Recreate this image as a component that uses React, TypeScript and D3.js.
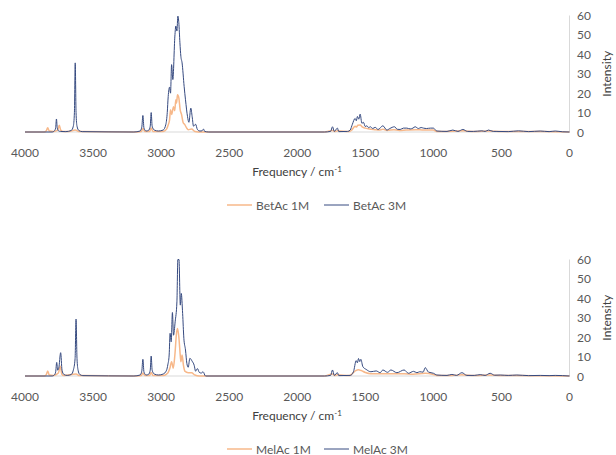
import React, { useRef, useEffect } from 'react';
import * as d3 from 'd3';

type Pt = [number, number];

// wavenumber (cm-1), intensity
const betAc1M: Pt[] = [
  [4000, 0], [3860, 0], [3845, 0.5], [3833, 2.2], [3822, 0.5], [3790, 0.3], [3760, 1], [3748, 3.5], [3738, 1],
  [3720, 0.2], [3680, 0.2], [3631, 1], [3600, 0.2], [3200, 0], [3145, 0.3], [3134, 1.8], [3120, 0.3], [3085, 0.3],
  [3073, 2], [3060, 0.3], [2985, 0.3], [2960, 1.5], [2948, 3.6], [2938, 6.2], [2931, 11.4], [2923, 9], [2909, 13],
  [2900, 11], [2892, 16.6], [2886, 15], [2880, 19.2], [2870, 17.6], [2860, 11.4], [2850, 9], [2838, 4.8],
  [2826, 3.8], [2813, 2.1], [2801, 1.2], [2776, 1.5], [2752, 0.3], [2700, 0], [1800, 0], [1741, 0.8], [1720, 0.2],
  [1705, 0.6], [1620, 0.2], [1600, 1], [1575, 3], [1565, 2.6], [1555, 3.5], [1538, 3.6], [1520, 2.5], [1500, 2],
  [1470, 1.5], [1430, 1.2], [1400, 1], [1370, 1.4], [1340, 0.8], [1290, 1.2], [1250, 0.8], [1200, 1], [1130, 1.2],
  [1070, 1], [1000, 1], [975, 0.3], [860, 0.4], [780, 0.6], [700, 0.2], [595, 0.5], [500, 0.2], [374, 0.3],
  [200, 0.2], [0, 0],
];

const betAc3M: Pt[] = [
  [4000, 0], [3800, 0], [3785, 0.5], [3775, 2], [3769, 6.7], [3763, 2], [3752, 0.5], [3740, 0.3], [3700, 0.2],
  [3660, 0.8], [3645, 3], [3637, 10], [3631, 35.6], [3625, 10], [3618, 3], [3605, 0.8], [3580, 0.2], [3200, 0],
  [3155, 0.5], [3142, 2.5], [3134, 8.5], [3126, 2], [3110, 0.5], [3090, 1], [3080, 3], [3073, 10], [3066, 3],
  [3050, 1], [3020, 0.5], [2985, 1], [2965, 4], [2955, 10], [2948, 18.3], [2938, 23.1], [2931, 20], [2923, 34.7],
  [2914, 27], [2899, 49.4], [2892, 54.6], [2884, 52], [2877, 59.7], [2870, 56.3], [2862, 46], [2855, 39],
  [2846, 35.6], [2831, 23.5], [2821, 16.6], [2806, 7.9], [2796, 5], [2782, 12.3], [2772, 7.9], [2762, 3],
  [2747, 4], [2733, 1.2], [2715, 0.5], [2700, 0.6], [2689, 1.5], [2680, 0.3], [2650, 0], [1800, 0], [1755, 0.3],
  [1741, 2.7], [1728, 0.3], [1705, 2], [1695, 0.2], [1630, 0.3], [1611, 1], [1595, 4], [1575, 7], [1566, 5.8],
  [1558, 8], [1548, 6.6], [1538, 9.2], [1525, 4.5], [1514, 5], [1500, 2.8], [1489, 3.2], [1475, 2.2],
  [1464, 2.7], [1445, 1.8], [1428, 2.4], [1406, 1.3], [1371, 3.2], [1342, 1], [1320, 1.8], [1286, 2.7],
  [1265, 1.4], [1244, 1.3], [1220, 2], [1195, 2], [1170, 1.6], [1150, 2], [1134, 2.7], [1110, 1.8], [1090, 2.3],
  [1073, 2], [1050, 1.8], [1020, 2], [1000, 2], [975, 0.5], [900, 0.3], [857, 1], [820, 0.3], [783, 1.3],
  [750, 0.3], [705, 0.3], [644, 0.6], [620, 0.3], [595, 1], [560, 0.3], [533, 0.3], [450, 0.2], [374, 0.6],
  [300, 0.2], [215, 0.5], [150, 0.2], [105, 0.5], [50, 0.1], [0, 0],
];

const melAc1M: Pt[] = [
  [4000, 0], [3860, 0], [3845, 0.5], [3833, 2.6], [3822, 0.5], [3790, 0.3], [3755, 1.5], [3740, 5], [3730, 1],
  [3715, 0.2], [3625, 1], [3600, 0.2], [3200, 0], [3145, 0.3], [3134, 1.5], [3120, 0.3], [3085, 0.3], [3073, 1.8],
  [3060, 0.3], [2985, 0.3], [2960, 1], [2948, 1.9], [2936, 4], [2923, 7.4], [2911, 4], [2899, 10.8], [2887, 22],
  [2880, 24.5], [2870, 20.2], [2862, 13], [2855, 7.4], [2846, 10.8], [2836, 5.5], [2826, 2.5], [2801, 1.7],
  [2776, 1.7], [2752, 0.5], [2720, 0], [1800, 0], [1741, 1], [1720, 0.2], [1705, 0.6], [1620, 0.2], [1600, 1],
  [1570, 2.8], [1550, 3.2], [1530, 2.8], [1500, 1.8], [1460, 1.2], [1420, 1.2], [1370, 1.2], [1310, 1.1],
  [1215, 1.1], [1150, 0.9], [1060, 1.4], [1000, 0.8], [975, 0.3], [864, 0.3], [790, 0.6], [700, 0.2], [583, 0.5],
  [500, 0.2], [387, 0.2], [200, 0.1], [0, 0],
];

const melAc3M: Pt[] = [
  [4000, 0], [3800, 0], [3785, 0.5], [3775, 2], [3767, 7], [3760, 3], [3752, 4], [3738, 12], [3728, 3],
  [3715, 0.8], [3690, 0.3], [3660, 0.8], [3645, 3], [3632, 9], [3625, 29.3], [3618, 9], [3610, 3], [3598, 0.8],
  [3575, 0.2], [3200, 0], [3155, 0.5], [3142, 2.5], [3134, 8.6], [3126, 2], [3110, 0.5], [3090, 1], [3080, 3],
  [3073, 10.3], [3066, 3], [3050, 1], [3020, 0.5], [2985, 1], [2960, 3], [2951, 5.7], [2941, 10.8], [2934, 22],
  [2926, 17.6], [2917, 32.7], [2909, 21], [2897, 27.9], [2884, 38.2], [2877, 60], [2869, 60], [2859, 36.5],
  [2852, 42.5], [2842, 32.2], [2833, 19.4], [2821, 13.4], [2811, 6.5], [2801, 4.5], [2789, 9.1], [2772, 7.6],
  [2757, 5.5], [2747, 2.5], [2733, 3.8], [2720, 1.9], [2705, 1.5], [2692, 2.2], [2674, 0], [1800, 0],
  [1755, 0.3], [1741, 3.1], [1728, 0.3], [1705, 1.7], [1695, 0.2], [1610, 0.3], [1587, 2.2], [1567, 7.9],
  [1558, 6.8], [1550, 9], [1541, 7.4], [1533, 8.6], [1518, 4.8], [1494, 3.4], [1459, 2.2], [1420, 2.6],
  [1391, 1.7], [1371, 3.1], [1337, 1.9], [1312, 3.1], [1268, 1.7], [1215, 3.1], [1183, 1.4], [1146, 2.4],
  [1121, 1.7], [1100, 2.2], [1075, 2], [1060, 4.3], [1036, 2], [999, 1.4], [975, 0.5], [900, 0.3], [864, 0.8],
  [830, 0.3], [790, 1.7], [754, 0.3], [700, 0.3], [656, 0.7], [620, 0.3], [583, 1.4], [550, 0.4], [509, 0.5],
  [450, 0.3], [387, 0.5], [300, 0.2], [215, 0.3], [150, 0.2], [105, 0.3], [0, 0],
];

const xTicks = [4000, 3500, 3000, 2500, 2000, 1500, 1000, 500, 0];
const yTicks = [0, 10, 20, 30, 40, 50, 60];

const ORANGE = '#F7B88A';
const NAVY = '#364A80';
const FONT = 'Lato, "Open Sans", sans-serif';

function Spectrum({ top, s1, s3, names }: { top: number; s1: Pt[]; s3: Pt[]; names: string[] }) {
  const gRef = useRef<SVGGElement>(null);

  useEffect(() => {
    const g = d3.select(gRef.current);
    g.selectAll('*').remove();

    const x = d3.scaleLinear().domain([4000, 0]).range([25, 569.5]);
    const y = d3.scaleLinear().domain([0, 60]).range([top + 116.5, top]);

    // axis lines
    g.append('line').attr('x1', x(4000)).attr('x2', x(0)).attr('y1', y(0)).attr('y2', y(0))
      .attr('stroke', '#D9D9D9').attr('stroke-width', 1);
    g.append('line').attr('x1', x(0)).attr('x2', x(0)).attr('y1', y(60)).attr('y2', y(0))
      .attr('stroke', '#D9D9D9').attr('stroke-width', 1);

    const line = d3.line<Pt>().x(d => x(d[0])).y(d => y(d[1])).curve(d3.curveMonotoneX);

    g.append('path').attr('d', line(s1)).attr('fill', 'none').attr('stroke', ORANGE).attr('stroke-width', 1.5);
    g.append('path').attr('d', line(s3)).attr('fill', 'none').attr('stroke', NAVY).attr('stroke-width', 1);

    g.selectAll('.xt').data(xTicks).join('text')
      .attr('x', d => x(d)).attr('y', y(0) + 24.5)
      .attr('text-anchor', 'middle').attr('font-size', 12).attr('fill', '#595959')
      .text(d => d);

    g.selectAll('.yt').data(yTicks).join('text')
      .attr('x', 577).attr('y', d => y(d) + 4.5)
      .attr('font-size', 12).attr('fill', '#595959')
      .text(d => d);

    g.append('text').attr('transform', `translate(611,${y(30)}) rotate(-90)`)
      .attr('text-anchor', 'middle').attr('font-size', 12).attr('fill', '#404040')
      .text('Intensity');

    const ft = g.append('text').attr('x', 297).attr('y', y(0) + 44)
      .attr('text-anchor', 'middle').attr('font-size', 12).attr('fill', '#404040');
    ft.append('tspan').text('Frequency / cm');
    ft.append('tspan').attr('dy', -4).attr('font-size', 8).text('-1');

    // legend
    const ly = y(0) + 73;
    const items = [
      { c: ORANGE, x0: 227, name: names[0] },
      { c: NAVY, x0: 324, name: names[1] },
    ];
    items.forEach(it => {
      g.append('line').attr('x1', it.x0).attr('x2', it.x0 + 25).attr('y1', ly).attr('y2', ly)
        .attr('stroke', it.c).attr('stroke-width', it.c === ORANGE ? 1.5 : 1);
      g.append('text').attr('x', it.x0 + 29).attr('y', ly + 4.5)
        .attr('font-size', 12).attr('fill', '#595959').text(it.name);
    });
  }, [top, s1, s3, names]);

  return <g ref={gRef} fontFamily={FONT} />;
}

export default function App() {
  return (
    <svg width={616} height={455} style={{ position: 'absolute', left: 0, top: 0, background: '#fff' }}>
      <Spectrum top={15.5} s1={betAc1M} s3={betAc3M} names={['BetAc 1M', 'BetAc 3M']} />
      <Spectrum top={259.5} s1={melAc1M} s3={melAc3M} names={['MelAc 1M', 'MelAc 3M']} />
    </svg>
  );
}
